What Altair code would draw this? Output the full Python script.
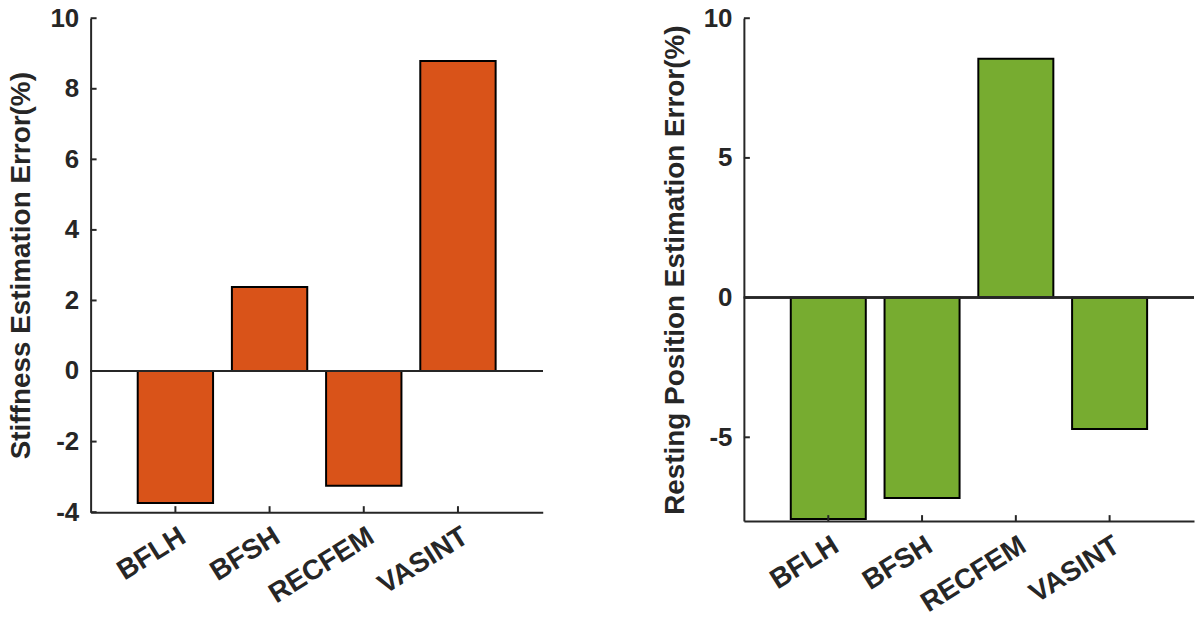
import altair as alt
import pandas as pd

categories = ["BFLH", "BFSH", "RECFEM", "VASINT"]
stiffness_error = [-3.74, 2.38, -3.25, 8.79]
resting_error = [-7.92, -7.17, 8.55, -4.70]
stiffness_ticks = [-4, -2, 0, 2, 4, 6, 8, 10]
resting_ticks = [-5, 0, 5, 10]

FONT = "Liberation Sans"
AX = "#262626"


def panel(vals, color, ydom, yticks, title, w, h):
    df = pd.DataFrame({"cat": categories, "val": vals})
    xscale = alt.Scale(paddingInner=0.2, paddingOuter=0.5)
    yscale = alt.Scale(domain=ydom, nice=False, zero=False)
    xaxis = alt.Axis(title=None, labelAngle=328, labelAlign="right",
                     labelBaseline="middle", ticks=False, labelPadding=22,
                     labelOffset=8, domainColor=AX, domainWidth=2,
                     labelFont=FONT, labelFontSize=28, labelFontWeight="bold",
                     labelColor=AX)
    yaxis = alt.Axis(values=yticks, ticks=False, grid=False, title=title,
                     titleFont=FONT, titleFontSize=28, titleFontWeight="bold",
                     titleColor=AX, titlePadding=14, labelPadding=12,
                     labelExpr="'' + datum.value",
                     labelFont=FONT, labelFontSize=26, labelFontWeight="bold",
                     labelColor=AX, domainColor=AX, domainWidth=2)
    bars = alt.Chart(df).mark_bar(color=color, stroke="black", strokeWidth=2).encode(
        x=alt.X("cat:N", sort=categories, scale=xscale, axis=xaxis),
        y=alt.Y("val:Q", scale=yscale, axis=yaxis),
    )
    zero = alt.Chart(df).mark_rule(color=AX, strokeWidth=2).encode(y=alt.datum(0))
    ytdf = pd.DataFrame({"val": yticks})
    yt = alt.Chart(ytdf).mark_rule(color=AX, strokeWidth=2).encode(
        y=alt.Y("val:Q", scale=yscale, axis=yaxis), x=alt.value(0), x2=alt.value(6))
    xt = alt.Chart(df).mark_rule(color=AX, strokeWidth=2).encode(
        x=alt.X("cat:N", sort=categories, scale=xscale, axis=xaxis),
        y=alt.value(h), y2=alt.value(h - 6))
    return alt.layer(bars, zero, yt, xt).properties(width=w, height=h)


left = panel(stiffness_error, "#D95319", [-4, 10], stiffness_ticks,
             "Stiffness Estimation Error(%)", 454, 496)
right = panel(resting_error, "#77AC30", [-8, 10], resting_ticks,
              "Resting Position Estimation Error(%)", 452, 505)

chart = alt.hconcat(left, right, spacing=118).properties(
    padding={"left": 8, "top": 4, "right": 0, "bottom": 0},
    background="white",
).configure_view(stroke=None)

chart.save("out.html", embed_options={"renderer": "svg", "actions": False})
